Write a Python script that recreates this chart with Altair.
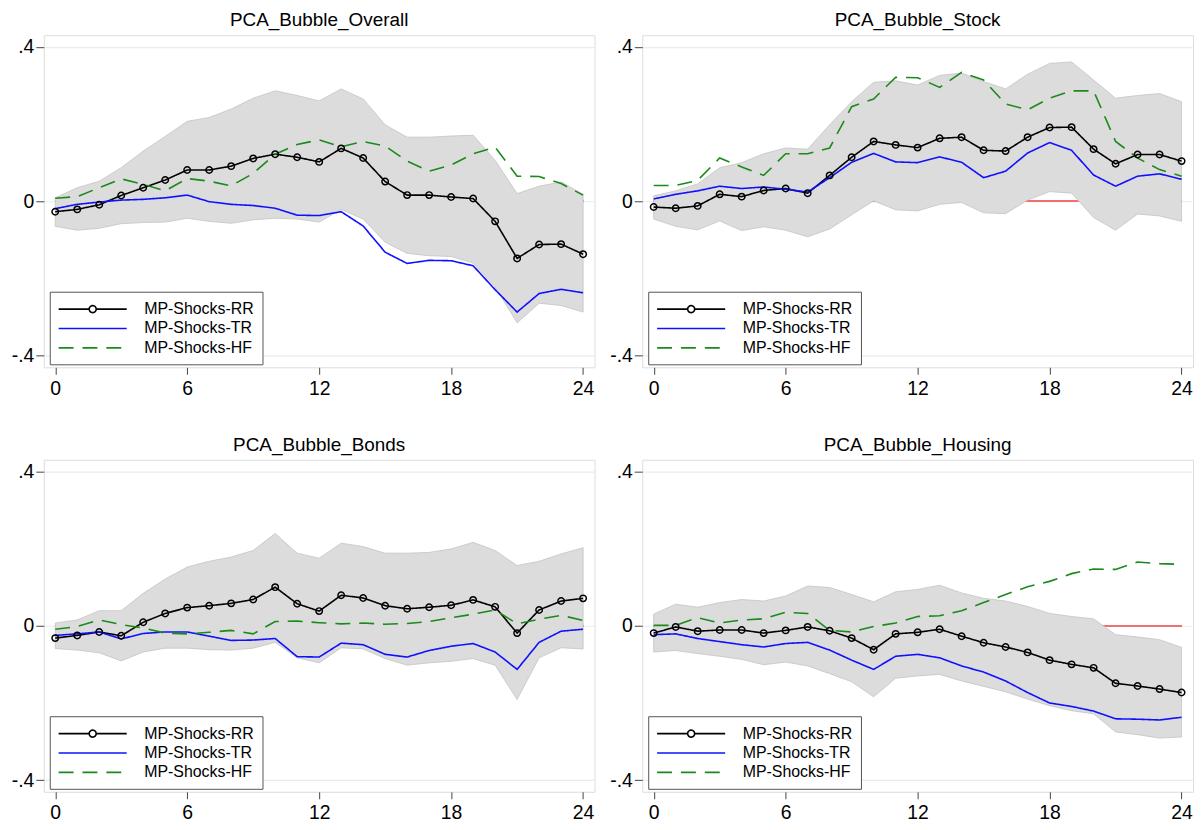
import altair as alt
import pandas as pd

horizon = list(range(25))
series_names = ["MP-Shocks-RR", "MP-Shocks-TR", "MP-Shocks-HF"]
panel_titles = ["PCA_Bubble_Overall", "PCA_Bubble_Stock", "PCA_Bubble_Bonds", "PCA_Bubble_Housing"]

# ---- PCA_Bubble_Overall ----
overall_rr = [-0.027, -0.021, -0.009, 0.015, 0.035, 0.055, 0.081, 0.081, 0.091, 0.111, 0.122, 0.114, 0.102,
              0.137, 0.112, 0.051, 0.016, 0.016, 0.011, 0.007, -0.052, -0.148, -0.112, -0.111, -0.137]
overall_tr = [-0.019, -0.008, -0.002, 0.003, 0.005, 0.009, 0.016, -0.001, -0.008, -0.011, -0.018, -0.036, -0.037,
              -0.027, -0.064, -0.132, -0.161, -0.153, -0.154, -0.167, -0.229, -0.287, -0.239, -0.228, -0.237]
overall_hf = [0.008, 0.012, 0.035, 0.058, 0.044, 0.027, 0.059, 0.052, 0.040, 0.072, 0.122, 0.147, 0.159,
              0.141, 0.155, 0.143, 0.104, 0.078, 0.094, 0.123, 0.140, 0.065, 0.064, 0.046, 0.016]
overall_lo = [-0.065, -0.075, -0.070, -0.058, -0.055, -0.054, -0.044, -0.052, -0.057, -0.048, -0.044, -0.046, -0.054,
              -0.021, -0.046, -0.106, -0.135, -0.141, -0.143, -0.160, -0.222, -0.315, -0.264, -0.270, -0.287]
overall_hi = [0.009, 0.035, 0.052, 0.087, 0.130, 0.168, 0.207, 0.217, 0.239, 0.267, 0.286, 0.274, 0.260,
              0.291, 0.265, 0.198, 0.166, 0.166, 0.169, 0.171, 0.106, 0.020, 0.039, 0.050, 0.018]

# ---- PCA_Bubble_Stock ----
stock_rr = [-0.015, -0.018, -0.012, 0.018, 0.012, 0.028, 0.033, 0.021, 0.067, 0.114, 0.155, 0.146, 0.139,
            0.163, 0.166, 0.132, 0.130, 0.166, 0.191, 0.192, 0.135, 0.097, 0.121, 0.121, 0.104]
stock_tr = [0.006, 0.018, 0.027, 0.039, 0.033, 0.037, 0.031, 0.024, 0.061, 0.101, 0.124, 0.102, 0.100,
            0.115, 0.101, 0.061, 0.078, 0.125, 0.152, 0.132, 0.068, 0.039, 0.065, 0.071, 0.057]
stock_hf = [0.041, 0.041, 0.054, 0.112, 0.089, 0.067, 0.123, 0.123, 0.138, 0.245, 0.265, 0.321, 0.320,
            0.295, 0.334, 0.314, 0.252, 0.237, 0.267, 0.286, 0.286, 0.155, 0.112, 0.082, 0.065]
stock_lo = [-0.046, -0.065, -0.074, -0.051, -0.076, -0.066, -0.075, -0.092, -0.072, -0.035, 0.001, -0.022, -0.025,
            -0.008, -0.003, -0.030, -0.032, 0.003, 0.025, 0.021, -0.042, -0.075, -0.033, -0.038, -0.052]
stock_hi = [0.014, 0.027, 0.045, 0.087, 0.100, 0.123, 0.138, 0.135, 0.198, 0.258, 0.308, 0.312, 0.301,
            0.326, 0.332, 0.310, 0.291, 0.329, 0.357, 0.361, 0.314, 0.267, 0.274, 0.279, 0.258]

# ---- PCA_Bubble_Bonds ----
bonds_rr = [-0.032, -0.025, -0.016, -0.026, 0.009, 0.032, 0.047, 0.052, 0.058, 0.068, 0.100, 0.057, 0.038,
            0.079, 0.072, 0.052, 0.044, 0.048, 0.053, 0.067, 0.049, -0.019, 0.041, 0.064, 0.071]
bonds_tr = [-0.025, -0.021, -0.016, -0.034, -0.020, -0.016, -0.016, -0.027, -0.038, -0.037, -0.033, -0.080, -0.081,
            -0.045, -0.049, -0.074, -0.081, -0.064, -0.053, -0.046, -0.068, -0.113, -0.043, -0.014, -0.009]
bonds_hf = [-0.009, -0.002, 0.015, 0.003, -0.006, -0.019, -0.021, -0.017, -0.012, -0.021, 0.011, 0.012, 0.008,
            0.005, 0.007, 0.004, 0.006, 0.011, 0.021, 0.030, 0.041, 0.005, 0.017, 0.027, 0.014]
bonds_lo = [-0.059, -0.063, -0.070, -0.091, -0.068, -0.058, -0.058, -0.062, -0.063, -0.058, -0.043, -0.083, -0.096,
            -0.057, -0.060, -0.085, -0.102, -0.096, -0.092, -0.085, -0.102, -0.191, -0.083, -0.057, -0.060]
bonds_hi = [0.007, 0.015, 0.039, 0.039, 0.084, 0.121, 0.152, 0.167, 0.178, 0.195, 0.239, 0.188, 0.175,
            0.214, 0.205, 0.188, 0.188, 0.190, 0.199, 0.216, 0.195, 0.156, 0.167, 0.186, 0.202]

# ---- PCA_Bubble_Housing ----
housing_rr = [-0.019, -0.003, -0.014, -0.011, -0.011, -0.019, -0.012, -0.003, -0.013, -0.032, -0.062, -0.021, -0.017,
              -0.009, -0.027, -0.044, -0.055, -0.069, -0.089, -0.100, -0.109, -0.149, -0.156, -0.164, -0.173]
housing_tr = [-0.023, -0.021, -0.033, -0.041, -0.049, -0.055, -0.046, -0.043, -0.063, -0.089, -0.113, -0.079, -0.074,
              -0.083, -0.104, -0.120, -0.143, -0.173, -0.200, -0.209, -0.221, -0.241, -0.242, -0.244, -0.237]
housing_hf = [0.001, 0.001, 0.021, 0.007, 0.015, 0.018, 0.035, 0.032, -0.012, -0.016, -0.002, 0.007, 0.024,
              0.026, 0.039, 0.060, 0.081, 0.101, 0.115, 0.135, 0.147, 0.146, 0.165, 0.161, 0.159]
housing_lo = [-0.068, -0.064, -0.072, -0.079, -0.087, -0.101, -0.094, -0.104, -0.124, -0.145, -0.184, -0.136, -0.130,
              -0.126, -0.143, -0.157, -0.171, -0.190, -0.207, -0.220, -0.228, -0.275, -0.282, -0.291, -0.288]
housing_hi = [0.030, 0.056, 0.048, 0.060, 0.068, 0.064, 0.077, 0.103, 0.099, 0.081, 0.062, 0.088, 0.094,
              0.105, 0.085, 0.071, 0.064, 0.050, 0.032, 0.024, 0.018, -0.023, -0.029, -0.036, -0.056]

panels = [
    (panel_titles[0], overall_rr, overall_tr, overall_hf, overall_lo, overall_hi),
    (panel_titles[1], stock_rr, stock_tr, stock_hf, stock_lo, stock_hi),
    (panel_titles[2], bonds_rr, bonds_tr, bonds_hf, bonds_lo, bonds_hi),
    (panel_titles[3], housing_rr, housing_tr, housing_hf, housing_lo, housing_hi),
]

x_ticks = [0, 6, 12, 18, 24]
y_ticks = [-0.4, 0, 0.4]
FONT = "Liberation Sans"

color_scale = alt.Scale(domain=series_names, range=["#000000", "#1010ff", "#1a8a1a"])
dash_scale = alt.Scale(domain=series_names, range=[[1, 0], [1, 0], [15, 9]])

x_scale = alt.Scale(domain=[-0.52, 24.52], nice=False, zero=False)
y_scale = alt.Scale(domain=[-0.43, 0.43], nice=False, zero=False)

x_axis = alt.Axis(values=x_ticks, title=None, grid=False, domain=False, tickColor="#444444",
                  tickSize=7, labelFontSize=19.5, labelPadding=5, labelColor="#000000", labelFont=FONT,
                  labelFlush=False)
y_axis = alt.Axis(values=y_ticks, title=None, grid=True, gridColor="#e4eef0", gridWidth=1.2,
                  domain=False, tickColor="#444444", tickSize=8, labelFontSize=19.5, labelPadding=2,
                  labelColor="#000000", labelFont=FONT, minExtent=35,
                  labelExpr="datum.value == 0 ? '0' : (datum.value < 0 ? '-' : '') + replace(format(abs(datum.value), '.1f'), '0.', '.')")

LINE_SYM = "M-1,0L7,0"
RR_SYM = "M-1,0L2.59,0M3.41,0L7,0M3.41,0A0.41,0.41,0,1,1,2.59,0A0.41,0.41,0,1,1,3.41,0"
SYM_EXPR = "datum.value == '" + series_names[0] + "' ? '" + RR_SYM + "' : '" + LINE_SYM + "'"


def make_panel(title, rr, tr, hf, lo, hi):
    band_df = pd.DataFrame({"h": horizon, "lo": lo, "hi": hi})
    long_df = pd.DataFrame({
        "h": horizon * 3,
        "value": rr + tr + hf,
        "series": [series_names[0]] * 25 + [series_names[1]] * 25 + [series_names[2]] * 25,
    })
    rr_df = pd.DataFrame({"h": horizon, "value": rr})

    zero = alt.Chart(band_df).mark_rule(color="#f07070", strokeWidth=1.3).encode(
        x=alt.datum(horizon[0], scale=x_scale, axis=x_axis),
        x2=alt.datum(horizon[-1]),
        y=alt.datum(0, scale=y_scale, axis=y_axis),
    )
    band = alt.Chart(band_df).mark_area(fill="#dcdcdc", stroke="#c4c4c4", strokeWidth=0.8).encode(
        x=alt.X("h:Q", scale=x_scale, axis=x_axis),
        y=alt.Y("lo:Q", scale=y_scale, axis=y_axis),
        y2="hi:Q",
    )
    legend = alt.Legend(
        title=None, orient="none", legendX=6, legendY=258,
        symbolType={"expr": SYM_EXPR}, symbolSize=293, symbolStrokeWidth=1.6,
        labelFontSize=16, labelFont=FONT, labelColor="#000000",
        labelOffset=68, rowPadding=1.5, padding=8,
        strokeColor="#555555", fillColor="#ffffff", labelLimit=400,
        labelExpr="datum.label + '   '",
    )
    lines = alt.Chart(long_df).mark_line(strokeWidth=1.6).encode(
        x=alt.X("h:Q", scale=x_scale, axis=x_axis),
        y=alt.Y("value:Q", scale=y_scale, axis=y_axis),
        color=alt.Color("series:N", scale=color_scale, sort=series_names, legend=legend),
        strokeDash=alt.StrokeDash("series:N", scale=dash_scale, sort=series_names, legend=None),
        detail="series:N",
    )
    pts = alt.Chart(rr_df).mark_point(shape="circle", filled=False, color="#000000", size=42,
                                      strokeWidth=1.5, opacity=1).encode(
        x=alt.X("h:Q", scale=x_scale, axis=x_axis),
        y=alt.Y("value:Q", scale=y_scale, axis=y_axis),
    )
    return alt.layer(zero, band, lines, pts).properties(
        width=554, height=334,
        title=alt.TitleParams(title, fontSize=19, font=FONT, fontWeight="normal", color="#000000", offset=5),
    )


def indep(c):
    return c.resolve_scale(color="independent", strokeDash="independent").resolve_legend(
        color="independent", strokeDash="independent")


charts = [make_panel(*p) for p in panels]
top = indep(alt.hconcat(charts[0], charts[1], spacing=11))
bottom = indep(alt.hconcat(charts[2], charts[3], spacing=11))
chart = indep(alt.vconcat(top, bottom, spacing=37)).configure_view(
    stroke="#333333", strokeWidth=1.2
).configure(background="#ffffff", padding=0)

chart.save("out.html", embed_options={"renderer": "svg", "actions": False})
